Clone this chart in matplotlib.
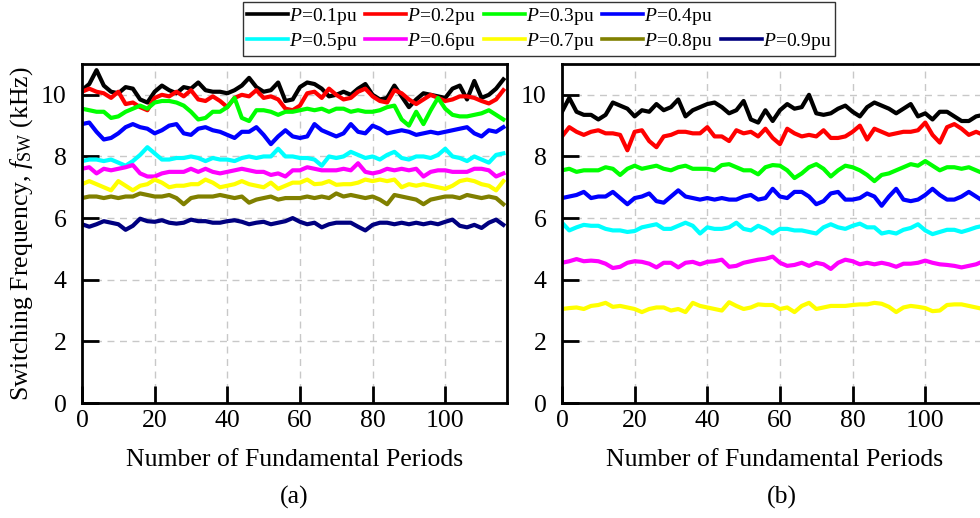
import numpy as np
import matplotlib
matplotlib.use("Agg")
import matplotlib.pyplot as plt
from matplotlib.lines import Line2D

plt.rcParams['font.family'] = ['Liberation Serif', 'DejaVu Serif']
plt.rcParams['mathtext.fontset'] = 'custom'
plt.rcParams['mathtext.rm'] = 'Liberation Serif'
plt.rcParams['mathtext.it'] = 'Liberation Serif:italic'
plt.rcParams['mathtext.bf'] = 'Liberation Serif:bold'

# ---------------- data ----------------
periods = np.arange(0, 117, 2)

labels = ["0.1", "0.2", "0.3", "0.4", "0.5", "0.6", "0.7", "0.8", "0.9"]
colors = ["#000000", "#ff0000", "#00ff00", "#0000ff", "#00ffff",
          "#ff00ff", "#ffff00", "#808000", "#000080"]

a_p01 = [10.15, 10.35, 10.8, 10.3, 10.1, 10.05, 10.25, 10.2, 9.85, 9.75, 10.1, 10.3, 10.15, 10.05, 10.25, 10.2, 10.4, 10.15, 10.1,
         10.1, 10.05, 10.15, 10.3, 10.55, 10.25, 10.1, 10.15, 10.4, 9.8, 9.85, 10.25, 10.4, 10.35, 10.2, 9.95, 10.0, 10.1,
         10.0, 10.2, 10.35, 10.0, 9.85, 9.9, 10.3, 9.95, 9.6, 9.85, 10.05, 10.0, 9.95, 9.9, 10.2, 10.3, 9.85, 10.45,
         9.9, 10.0, 10.2, 10.5]
a_p02 = [10.1, 10.2, 10.1, 10.05, 9.9, 10.1, 9.7, 9.75, 9.6, 9.5, 9.9, 10.0, 9.95, 10.1, 9.95, 10.15, 9.85, 9.8, 9.95,
         9.8, 9.6, 9.9, 10.0, 9.95, 10.15, 9.9, 9.95, 9.85, 9.55, 9.5, 9.65, 10.05, 10.1, 9.9, 10.2, 10.0, 9.85,
         9.9, 10.1, 10.2, 9.95, 9.8, 9.75, 10.15, 10.05, 9.85, 9.7, 9.85, 10.0, 9.9, 9.8, 9.85, 9.95, 9.95, 9.9,
         9.8, 9.72, 9.85, 10.15]
a_p03 = [9.55, 9.5, 9.45, 9.45, 9.25, 9.3, 9.45, 9.55, 9.65, 9.55, 9.75, 9.8, 9.8, 9.75, 9.65, 9.45, 9.2, 9.25, 9.45,
         9.45, 9.6, 9.9, 9.25, 9.15, 9.5, 9.5, 9.45, 9.35, 9.45, 9.45, 9.5, 9.55, 9.5, 9.55, 9.45, 9.55, 9.55,
         9.45, 9.5, 9.45, 9.45, 9.5, 9.6, 9.65, 9.2, 9.0, 9.45, 9.05, 9.5, 9.9, 9.55, 9.35, 9.3, 9.3, 9.35,
         9.4, 9.5, 9.35, 9.2]
a_p04 = [9.05, 9.1, 8.8, 8.55, 8.6, 8.75, 8.95, 9.05, 8.95, 8.9, 8.75, 8.85, 9.0, 9.05, 8.75, 8.7, 8.9, 8.95, 8.85,
         8.8, 8.7, 8.6, 8.8, 8.8, 8.95, 8.7, 8.4, 8.65, 8.85, 8.65, 8.6, 8.65, 9.05, 8.85, 8.75, 8.65, 8.75,
         9.05, 8.8, 8.75, 9.0, 8.9, 8.75, 8.8, 8.85, 8.8, 8.7, 8.75, 8.8, 8.75, 8.8, 8.85, 8.9, 8.95, 8.75,
         8.65, 8.85, 8.8, 8.95]
a_p05 = [7.85, 7.9, 7.9, 7.85, 7.9, 7.8, 7.7, 7.85, 8.05, 8.3, 8.1, 7.9, 7.9, 7.95, 7.95, 8.0, 7.95, 7.85, 7.95,
         7.9, 7.9, 7.85, 7.95, 8.0, 7.95, 8.0, 8.0, 8.25, 8.0, 8.0, 7.95, 7.95, 7.9, 7.7, 8.0, 7.95, 8.0,
         8.15, 8.05, 7.95, 8.0, 7.9, 8.05, 8.15, 7.95, 7.9, 8.0, 8.0, 7.95, 8.05, 8.25, 8.0, 7.95, 7.85, 8.0,
         7.9, 7.8, 8.05, 8.1]
a_p06 = [7.6, 7.65, 7.45, 7.6, 7.55, 7.6, 7.65, 7.72, 7.45, 7.35, 7.35, 7.45, 7.5, 7.5, 7.5, 7.6, 7.5, 7.6, 7.5,
         7.45, 7.5, 7.55, 7.6, 7.55, 7.5, 7.5, 7.4, 7.45, 7.35, 7.55, 7.55, 7.65, 7.6, 7.55, 7.55, 7.55, 7.6,
         7.55, 7.78, 7.5, 7.45, 7.5, 7.6, 7.55, 7.6, 7.55, 7.6, 7.35, 7.5, 7.55, 7.55, 7.5, 7.5, 7.5, 7.6,
         7.6, 7.55, 7.35, 7.45]
a_p07 = [7.1, 7.2, 7.1, 7.0, 6.9, 7.2, 7.05, 6.9, 7.05, 7.1, 7.25, 7.15, 7.0, 7.05, 7.05, 7.1, 7.1, 7.25, 7.15,
         7.0, 7.05, 7.1, 7.2, 7.1, 7.05, 7.0, 7.15, 6.95, 7.05, 7.15, 7.15, 7.25, 7.1, 7.12, 7.2, 7.08, 7.1,
         7.1, 7.15, 7.25, 7.2, 7.25, 7.2, 7.25, 7.0, 7.1, 7.05, 7.1, 7.05, 7.0, 6.95, 7.05, 7.2, 7.25, 7.2,
         7.1, 7.05, 6.9, 7.2]
a_p08 = [6.65, 6.7, 6.7, 6.65, 6.7, 6.65, 6.7, 6.7, 6.8, 6.75, 6.7, 6.7, 6.75, 6.65, 6.45, 6.65, 6.7, 6.7, 6.7,
         6.75, 6.7, 6.65, 6.7, 6.5, 6.6, 6.65, 6.7, 6.6, 6.65, 6.65, 6.65, 6.7, 6.65, 6.7, 6.65, 6.8, 6.7,
         6.75, 6.7, 6.65, 6.7, 6.6, 6.45, 6.75, 6.7, 6.65, 6.6, 6.45, 6.6, 6.65, 6.7, 6.7, 6.65, 6.75, 6.7,
         6.65, 6.7, 6.65, 6.45]
a_p09 = [5.8, 5.72, 5.8, 5.9, 5.85, 5.8, 5.62, 5.75, 5.98, 5.9, 5.88, 5.93, 5.85, 5.82, 5.85, 5.95, 5.9, 5.9, 5.85,
         5.85, 5.9, 5.93, 5.88, 5.8, 5.85, 5.88, 5.8, 5.85, 5.9, 6.0, 5.88, 5.8, 5.85, 5.7, 5.8, 5.85, 5.85,
         5.85, 5.72, 5.6, 5.78, 5.85, 5.85, 5.8, 5.85, 5.8, 5.85, 5.8, 5.85, 5.8, 5.88, 5.95, 5.75, 5.7, 5.78,
         5.68, 5.85, 5.95, 5.78]

b_p01 = [9.45, 9.9, 9.45, 9.35, 9.35, 9.2, 9.35, 9.75, 9.65, 9.55, 9.3, 9.5, 9.45, 9.7, 9.5, 9.6, 9.85, 9.3, 9.5, 9.6,
         9.7, 9.75, 9.6, 9.4, 9.5, 9.8, 9.2, 9.1, 9.5, 9.15, 9.5, 9.7, 9.55, 9.6, 10.0, 9.4, 9.35, 9.4, 9.55,
         9.65, 9.45, 9.3, 9.6, 9.75, 9.65, 9.55, 9.4, 9.55, 9.7, 9.3, 9.4, 9.2, 9.45, 9.45, 9.3, 9.15, 9.15, 9.3, 9.35]
b_p02 = [8.65, 8.95, 8.8, 8.7, 8.8, 8.85, 8.75, 8.75, 8.7, 8.2, 8.8, 8.85, 8.5, 8.3, 8.65, 8.7, 8.8, 8.8, 8.75, 8.75,
         8.95, 8.65, 8.65, 8.5, 8.85, 8.75, 8.8, 8.65, 8.9, 8.6, 8.4, 8.9, 8.75, 8.65, 8.7, 8.65, 8.85, 8.6, 8.6,
         8.65, 8.8, 9.0, 8.55, 8.9, 8.8, 8.7, 8.75, 8.8, 8.8, 8.85, 9.1, 8.7, 8.45, 8.95, 9.05, 8.9, 8.7, 8.8, 8.7]
b_p03 = [7.55, 7.6, 7.5, 7.55, 7.55, 7.55, 7.65, 7.6, 7.4, 7.6, 7.7, 7.6, 7.65, 7.7, 7.6, 7.55, 7.65, 7.7, 7.6, 7.6,
         7.6, 7.55, 7.72, 7.75, 7.65, 7.55, 7.55, 7.42, 7.65, 7.72, 7.7, 7.55, 7.3, 7.45, 7.65, 7.75, 7.6, 7.35, 7.55,
         7.7, 7.65, 7.55, 7.4, 7.2, 7.4, 7.45, 7.55, 7.65, 7.75, 7.7, 7.85, 7.7, 7.55, 7.65, 7.65, 7.6, 7.65, 7.55, 7.45]
b_p04 = [6.65, 6.7, 6.75, 6.85, 6.65, 6.7, 6.7, 6.85, 6.65, 6.45, 6.65, 6.7, 6.8, 6.55, 6.5, 6.7, 6.9, 6.7, 6.65, 6.6,
         6.65, 6.6, 6.65, 6.6, 6.6, 6.7, 6.75, 6.6, 6.65, 6.95, 6.7, 6.65, 6.85, 6.85, 6.7, 6.45, 6.55, 6.8, 6.85,
         6.6, 6.6, 6.65, 6.8, 6.7, 6.4, 6.7, 6.95, 6.6, 6.55, 6.6, 6.75, 6.95, 6.75, 6.6, 6.6, 6.7, 6.85, 6.7, 6.55]
b_p05 = [5.85, 5.6, 5.7, 5.78, 5.75, 5.75, 5.65, 5.6, 5.6, 5.55, 5.58, 5.7, 5.75, 5.8, 5.65, 5.65, 5.75, 5.85, 5.75, 5.5,
         5.7, 5.65, 5.65, 5.7, 5.85, 5.65, 5.6, 5.75, 5.65, 5.5, 5.65, 5.65, 5.6, 5.6, 5.55, 5.5, 5.7, 5.8, 5.7,
         5.65, 5.75, 5.82, 5.7, 5.7, 5.5, 5.55, 5.5, 5.62, 5.68, 5.8, 5.6, 5.48, 5.55, 5.62, 5.62, 5.55, 5.62, 5.7, 5.75]
b_p06 = [4.55, 4.6, 4.67, 4.6, 4.62, 4.6, 4.52, 4.38, 4.42, 4.55, 4.6, 4.58, 4.52, 4.4, 4.55, 4.55, 4.4, 4.55, 4.58, 4.5,
         4.58, 4.6, 4.65, 4.42, 4.45, 4.55, 4.6, 4.65, 4.68, 4.75, 4.55, 4.45, 4.48, 4.55, 4.45, 4.55, 4.5, 4.35, 4.55,
         4.65, 4.6, 4.5, 4.55, 4.5, 4.55, 4.5, 4.42, 4.52, 4.52, 4.55, 4.62, 4.55, 4.5, 4.48, 4.45, 4.4, 4.45, 4.5, 4.6]
b_p07 = [3.05, 3.08, 3.1, 3.05, 3.15, 3.18, 3.25, 3.12, 3.15, 3.1, 3.05, 2.95, 3.05, 3.1, 3.1, 3.0, 3.05, 2.95, 3.25, 3.15,
         3.1, 3.05, 3.0, 3.27, 3.15, 3.05, 3.1, 3.2, 3.18, 3.18, 3.05, 3.1, 2.95, 3.15, 3.25, 3.05, 3.1, 3.15, 3.15,
         3.15, 3.18, 3.2, 3.2, 3.25, 3.22, 3.12, 2.95, 3.1, 3.15, 3.12, 3.08, 2.98, 3.0, 3.18, 3.2, 3.2, 3.15, 3.1, 3.05]

series_a = [a_p01, a_p02, a_p03, a_p04, a_p05, a_p06, a_p07, a_p08, a_p09]
series_b = [b_p01, b_p02, b_p03, b_p04, b_p05, b_p06, b_p07]

xticks = [0, 20, 40, 60, 80, 100]
yticks = [0, 2, 4, 6, 8, 10]

FS = 18.5

# ---------------- figure ----------------
fig = plt.figure(figsize=(9.8, 5.18), dpi=100)
ax_a = fig.add_axes([82/980, 1 - 403/518, 425/980, 339/518])
ax_b = fig.add_axes([562/980, 1 - 403/518, 425/980, 339/518])

for ax, series in [(ax_a, series_a), (ax_b, series_b)]:
    for vals, c in zip(series, colors):
        ax.plot(periods[:len(vals)], vals, color=c, lw=3.0, solid_joinstyle='round')
    ax.set_xlim(0, 117)
    ax.set_ylim(0, 11)
    ax.set_xticks(xticks)
    ax.set_yticks(yticks)
    ax.grid(True, color='#c8c8c8', linestyle=(0, (5, 4)), linewidth=1.0)
    ax.set_axisbelow(True)
    for sp in ax.spines.values():
        sp.set_linewidth(2.0)
        sp.set_color('black')
    ax.tick_params(direction='in', length=12, width=2, labelsize=FS,
                   top=False, right=False)
    ax.tick_params(axis='y', pad=11)
    ax.tick_params(axis='x', pad=5)
    ax.set_xlabel("Number of Fundamental Periods", fontsize=FS, labelpad=12)

fig.text((82 + 425/2) / 980, 1 - 497/518, "(a)", ha='center', va='center', fontsize=FS)
fig.text(782 / 980, 1 - 497/518, "(b)", ha='center', va='center', fontsize=FS)

ax_a.set_ylabel(r"Switching Frequency, $f_{\mathrm{SW}}$ (kHz)", fontsize=FS, labelpad=4)

# legend: row-major placement using an invisible placeholder
handles = [Line2D([0], [0], color=c, lw=2.6) for c in colors]
texts = [r"$P$=" + l + "pu" for l in labels]
blank = Line2D([0], [0], color='none', lw=0)
order_h = [handles[0], handles[4], handles[1], handles[5], handles[2], handles[6],
           handles[3], handles[7], blank, handles[8]]
order_t = [texts[0], texts[4], texts[1], texts[5], texts[2], texts[6],
           texts[3], texts[7], texts[8], texts[8]]
leg = fig.legend(order_h, order_t, ncol=5, loc='upper left',
                 bbox_to_anchor=(243/980, 1 - 2/518), fontsize=14,
                 handlelength=2.1, handletextpad=0.05, columnspacing=0.42,
                 labelspacing=0.2, borderpad=0.2, borderaxespad=0,
                 frameon=True, fancybox=False)
leg.get_texts()[8].set_alpha(0)
leg.get_frame().set_edgecolor('black')
leg.get_frame().set_linewidth(1.0)

fig.savefig("out.png", dpi=100)
